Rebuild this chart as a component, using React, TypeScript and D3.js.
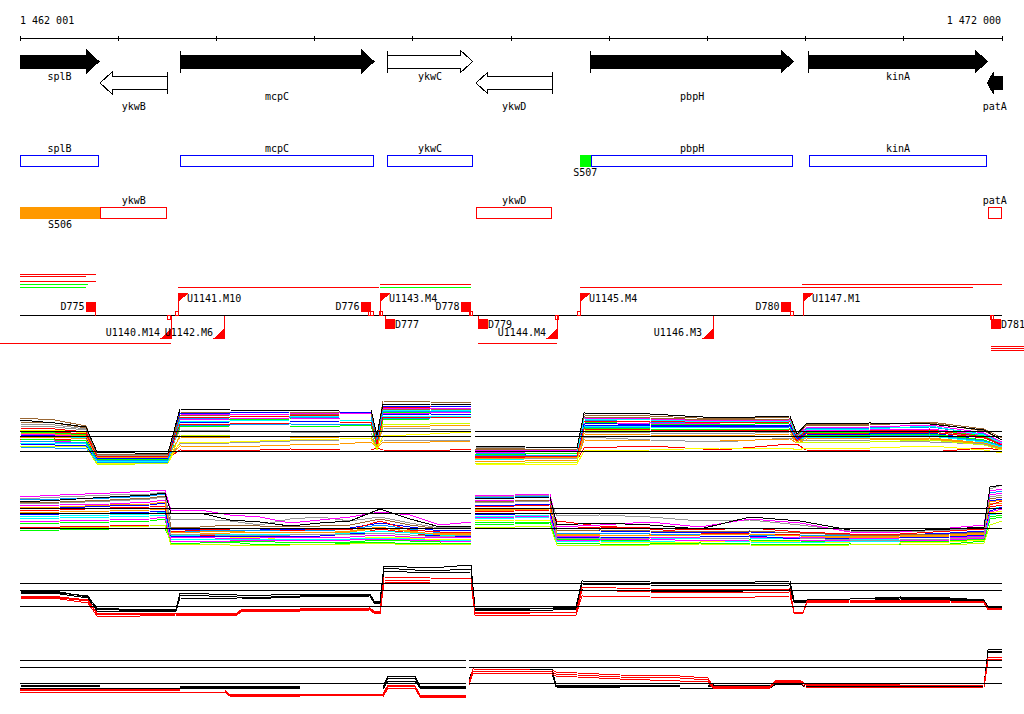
import React, { useEffect, useRef } from 'react';
import * as d3 from 'd3';

// genomic window shown
const viewStart = 1462001;
const viewEnd = 1472000;
const axisTicks = [1462001, 1463001, 1464001, 1465001, 1466001, 1467001, 1468001, 1469001, 1470001, 1471001, 1472000];
const axisLabels = ['1 462 001', '1 472 000'];

// genes (left / right coordinate, strand)
const geneNames = ['splB', 'ykwB', 'mcpC', 'ykwC', 'ykwD', 'pbpH', 'kinA', 'patA'];
const geneLeft = [1461300, 1462816, 1463633, 1465741, 1466644, 1467815, 1470032, 1471854];
const geneRight = [1462805, 1463501, 1465605, 1466610, 1467421, 1469875, 1471851, 1472700];
const geneStrand = [1, -1, 1, 1, -1, 1, 1, -1];
const geneDark = [true, false, true, false, false, true, true, true];
const geneLabelLevel = [0, 2, 1, 0, 2, 1, 0, 2];

// coloured segments on the gene boxes
const segNames = ['S506', 'S507'];
const segLeft = [1461300, 1467700];
const segRight = [1462816, 1467815];
const segStrand = [-1, 1];
const segColors = ['#ff9900', '#00ff00'];

// transcripts
const trLeft = [1462001, 1462001, 1462001, 1462001, 1462001, 1463610, 1465667, 1465667, 1467703, 1469967, 1461500, 1466668, 1471885, 1471885, 1471885];
const trRight = [1462775, 1462673, 1462775, 1462693, 1462673, 1465660, 1466590, 1466590, 1471708, 1472000, 1463535, 1467466, 1472600, 1472600, 1472600];
const trLane = [4, 3, 2, 1, 0, 0, 1, 0, 0, 1, -1, -1, -2, -3, -4];
const trColor = ['#ff0000', '#ff0000', '#ff0000', '#00ff00', '#00ff00', '#ff0000', '#ff0000', '#00ff00', '#ff0000', '#ff0000', '#ff0000', '#ff0000', '#ff0000', '#ff0000', '#ff0000'];

// promoters / terminators / small sites
const promoterNames = ['U1140.M14', 'U1141.M10', 'U1142.M6', 'U1143.M4', 'U1144.M4', 'U1145.M4', 'U1146.M3', 'U1147.M1'];
const promoterPos = [1463535, 1463610, 1464081, 1465667, 1467466, 1467703, 1469054, 1469971];
const promoterStrand = [-1, 1, -1, 1, -1, 1, -1, 1];
const terminatorNames = ['D775', 'D776', 'D777', 'D778', 'D779', 'D780', 'D781'];
const terminatorPos = [1462775, 1465575, 1465720, 1466593, 1466668, 1469851, 1471888];
const terminatorStrand = [1, 1, -1, 1, -1, 1, -1];
const sitePos = [1463523, 1463603, 1465565, 1465590, 1465672, 1466598, 1467469, 1467693, 1469859, 1471898];
const siteStrand = [-1, 1, 1, 1, 1, 1, -1, 1, 1, -1];

// expression panel A (many conditions)
const panelAPosLeft = [1462001, 1462357, 1462673, 1462785, 1463172, 1463508, 1463630, 1464139, 1464750, 1465259, 1465575, 1465636, 1465697, 1466176, 1466593];
const panelAPosRight = [1466634, 1467143, 1467673, 1467744, 1468416, 1469129, 1469841, 1469913, 1470004, 1470656, 1471267, 1471817, 1472000];
const panelAColors = ['#996633', '#999999', '#ff0000', '#00ff00', '#0000ff', '#0099ff', '#00ffff', '#ff00ff', '#ffff00', '#ff9900', '#ff00ff', '#ff0000', '#00ff00', '#0000ff', '#999999', '#ccff00', '#00ffff', '#ff9900', '#996633', '#0099ff', '#ff0000', '#000000'];
const panelAValues = [
  [52, 50, 44, 16, 15, 16, 58, 57, 57, 58, 57, 33, 69, 68, 67, 22, 21, 21, 53, 52, 50, 51, 34, 44, 45, 48, 41, 32],
  [44, 43, 40, 14, 13, 14, 26, 27, 29, 30, 30, 24, 30, 29, 30, 12, 11, 12, 33, 30, 28, 32, 30, 34, 35, 38, 33, 24],
  [30, 31, 29, 12, 12, 12, 20, 19, 21, 20, 20, 22, 20, 19, 21, 8, 9, 10, 22, 24, 20, 26, 26, 20, 19, 18, 22, 20],
  [38, 37, 35, 10, 10, 11, 52, 50, 51, 52, 52, 28, 58, 58, 57, 15, 14, 15, 48, 46, 45, 47, 32, 38, 38, 40, 34, 26],
  [26, 25, 24, 9, 9, 9, 47, 48, 48, 49, 49, 25, 55, 56, 55, 14, 15, 14, 45, 44, 43, 44, 30, 36, 35, 37, 30, 24],
  [23, 22, 22, 8, 7, 8, 45, 45, 46, 45, 46, 26, 52, 52, 53, 17, 16, 16, 50, 48, 47, 48, 33, 41, 42, 43, 36, 27],
  [34, 33, 32, 11, 10, 11, 55, 54, 53, 54, 54, 30, 60, 60, 59, 10, 11, 11, 44, 43, 42, 42, 29, 33, 33, 34, 28, 23],
  [36, 35, 34, 12, 11, 12, 50, 51, 52, 51, 51, 27, 57, 57, 58, 18, 18, 19, 46, 47, 46, 46, 31, 40, 40, 41, 35, 26],
  [40, 40, 37, 7, 6, 7, 28, 28, 30, 31, 32, 20, 34, 36, 38, 6, 5, 6, 19, 20, 22, 22, 20, 22, 22, 24, 20, 17],
  [33, 33, 31, 13, 12, 13, 24, 23, 25, 26, 28, 22, 28, 28, 29, 9, 9, 10, 30, 29, 29, 31, 27, 30, 30, 31, 26, 21],
  [28, 29, 27, 10, 11, 10, 56, 55, 56, 57, 56, 31, 62, 62, 62, 20, 20, 20, 52, 51, 49, 50, 35, 42, 43, 45, 37, 28],
  [42, 41, 38, 15, 14, 15, 53, 53, 54, 55, 55, 29, 63, 63, 64, 13, 13, 13, 49, 49, 47, 48, 32, 39, 39, 40, 33, 25],
  [31, 30, 29, 11, 11, 11, 43, 44, 44, 44, 45, 24, 50, 51, 51, 16, 16, 17, 42, 41, 40, 41, 28, 35, 35, 36, 30, 24],
  [35, 34, 33, 12, 12, 12, 57, 57, 58, 58, 57, 32, 64, 64, 63, 11, 12, 12, 47, 45, 44, 45, 31, 37, 36, 38, 32, 25],
  [46, 45, 41, 15, 15, 15, 40, 39, 38, 37, 37, 23, 42, 41, 40, 23, 22, 22, 38, 37, 36, 38, 29, 30, 29, 28, 26, 22],
  [24, 24, 23, 6, 6, 7, 35, 34, 34, 33, 33, 21, 46, 46, 47, 7, 7, 8, 40, 39, 38, 40, 27, 28, 28, 30, 25, 20],
  [27, 27, 26, 9, 8, 9, 49, 49, 50, 50, 50, 26, 54, 54, 54, 19, 19, 18, 51, 50, 48, 49, 34, 40, 41, 44, 35, 27],
  [37, 36, 34, 13, 13, 14, 33, 32, 32, 33, 33, 23, 44, 44, 45, 12, 12, 13, 36, 35, 34, 36, 28, 32, 31, 32, 27, 22],
  [48, 47, 42, 16, 16, 16, 54, 55, 55, 56, 56, 30, 61, 61, 60, 21, 21, 21, 55, 54, 51, 53, 34, 45, 46, 47, 39, 30],
  [29, 28, 27, 10, 9, 10, 51, 52, 52, 53, 53, 28, 59, 59, 59, 15, 15, 15, 43, 42, 42, 43, 30, 34, 34, 35, 29, 24],
  [39, 38, 36, 14, 13, 14, 46, 46, 47, 47, 48, 26, 53, 53, 52, 14, 14, 14, 41, 40, 39, 40, 29, 36, 37, 38, 32, 25],
  [50, 47, 43, 18, 17, 17, 61, 60, 59, 60, 60, 35, 66, 66, 65, 24, 23, 22, 57, 56, 52, 54, 36, 46, 47, 46, 40, 30]
];

// expression panel B
const panelBPosLeft = [1462001, 1462408, 1462917, 1463325, 1463477, 1463539, 1463834, 1464139, 1464445, 1464750, 1465056, 1465361, 1465667, 1465972, 1466278, 1466593];
const panelBPosRight = [1466634, 1467041, 1467398, 1467469, 1467907, 1468416, 1468925, 1469434, 1469943, 1470452, 1470961, 1471471, 1471817, 1471878, 1472000];
const panelBColors = ['#999999', '#ff0000', '#00ff00', '#0000ff', '#00ffff', '#ffff00', '#ff9900', '#ff00ff', '#0099ff', '#ff0000', '#00ff00', '#996633', '#0000ff', '#00ffff', '#ccff00', '#ff9900', '#ff00ff', '#999999', '#ff00ff', '#000000'];
const panelBValues = [
  [43, 44, 46, 48, 50, 27, 28, 26, 22, 28, 30, 26, 30, 24, 19, 20, 44, 45, 46, 31, 32, 30, 26, 27, 22, 16, 15, 17, 18, 50, 52],
  [20, 20, 21, 22, 22, 10, 11, 12, 11, 12, 13, 12, 18, 14, 10, 11, 35, 36, 37, 26, 21, 18, 14, 13, 12, 10, 9, 10, 12, 40, 42],
  [16, 17, 18, 18, 19, 5, 6, 5, 6, 4, 5, 5, 7, 6, 5, 6, 22, 23, 24, 8, 7, 6, 6, 7, 6, 5, 5, 6, 8, 30, 32],
  [38, 39, 41, 42, 44, 18, 17, 19, 18, 17, 18, 19, 24, 20, 16, 17, 42, 42, 43, 17, 16, 15, 14, 15, 14, 13, 12, 14, 16, 46, 48],
  [30, 31, 32, 33, 35, 12, 12, 13, 12, 13, 12, 14, 16, 14, 12, 12, 30, 31, 32, 9, 8, 9, 8, 8, 9, 7, 8, 8, 10, 38, 40],
  [26, 26, 27, 28, 30, 8, 7, 9, 10, 6, 8, 8, 10, 9, 7, 8, 26, 27, 27, 6, 5, 4, 5, 6, 5, 4, 4, 5, 7, 34, 36],
  [34, 35, 36, 37, 38, 14, 15, 16, 14, 15, 14, 16, 20, 15, 13, 14, 38, 38, 39, 12, 11, 12, 11, 10, 10, 9, 10, 11, 13, 44, 44],
  [41, 42, 43, 45, 47, 9, 10, 8, 9, 10, 9, 10, 12, 10, 9, 10, 46, 47, 47, 11, 10, 10, 9, 9, 10, 8, 9, 9, 11, 52, 54],
  [47, 48, 49, 51, 53, 16, 16, 17, 16, 17, 16, 18, 22, 18, 14, 15, 49, 50, 51, 14, 14, 13, 12, 12, 12, 11, 11, 12, 14, 54, 56],
  [36, 37, 39, 40, 41, 15, 17, 18, 19, 16, 18, 17, 26, 17, 15, 15, 40, 41, 42, 18, 20, 19, 17, 19, 15, 13, 13, 16, 18, 42, 46],
  [23, 24, 25, 26, 28, 3, 4, 5, 2, 3, 2, 4, 5, 3, 4, 3, 24, 25, 25, 4, 3, 3, 4, 3, 2, 3, 2, 3, 6, 28, 30],
  [44, 45, 47, 49, 51, 20, 20, 22, 21, 20, 21, 22, 28, 22, 18, 19, 45, 46, 47, 16, 17, 16, 15, 16, 14, 12, 12, 13, 15, 48, 50],
  [32, 33, 34, 35, 36, 11, 11, 10, 11, 11, 11, 13, 14, 12, 11, 11, 33, 33, 34, 10, 9, 10, 10, 11, 8, 9, 9, 10, 12, 36, 40],
  [28, 29, 30, 31, 32, 7, 8, 7, 8, 8, 7, 8, 9, 8, 6, 7, 28, 29, 30, 5, 6, 5, 7, 5, 4, 6, 6, 7, 9, 32, 34],
  [18, 19, 20, 21, 22, 2, 3, 2, 1, 2, 3, 3, 4, 2, 3, 2, 20, 20, 21, 2, 1, 2, 3, 2, 1, 2, 3, 2, 4, 22, 26],
  [39, 40, 42, 43, 45, 13, 13, 14, 15, 14, 15, 15, 19, 16, 12, 13, 36, 37, 38, 13, 12, 11, 12, 13, 11, 10, 11, 12, 14, 45, 47],
  [25, 26, 27, 28, 30, 6, 6, 6, 7, 7, 6, 7, 8, 7, 6, 6, 29, 30, 31, 7, 7, 8, 6, 7, 7, 6, 6, 7, 9, 35, 38],
  [48, 50, 52, 53, 55, 12, 13, 11, 12, 12, 13, 12, 14, 12, 10, 12, 50, 51, 52, 8, 9, 8, 8, 9, 9, 7, 7, 8, 10, 58, 62],
  [50, 52, 54, 56, 57, 36, 37, 32, 30, 24, 27, 30, 35, 32, 22, 25, 51, 52, 53, 20, 22, 25, 20, 28, 24, 15, 15, 19, 22, 56, 58],
  [45, 47, 50, 52, 54, 34, 34, 27, 25, 21, 24, 26, 38, 28, 20, 21, 48, 49, 50, 22, 24, 22, 18, 30, 26, 17, 16, 18, 20, 60, 62]
];

// expression panel C (3 black + 3 red)
const panelCPos = [1462001, 1462408, 1462693, 1462785, 1463223, 1463589, 1463630, 1464211, 1464261, 1464852, 1465565, 1465605, 1465667, 1465707, 1466176, 1466593, 1466634, 1467194, 1467662, 1467723, 1468416, 1469129, 1469841, 1469882, 1469974, 1470015, 1470452, 1470961, 1471471, 1471817, 1471858, 1472000];
const panelCColors = ['#000000', '#000000', '#000000', '#ff0000', '#ff0000', '#ff0000'];
const panelCValues = [
  [32, 31, 26, 15, 13, 14, 30, 28, 27, 29, 29, 22, 22, 57, 55, 58, 15, 14, 16, 42, 41, 40, 42, 23, 23, 23, 24, 26, 25, 23, 16, 16],
  [31, 30, 27, 14, 12, 13, 28, 26, 25, 27, 28, 21, 21, 55, 52, 54, 14, 14, 15, 39, 38, 37, 38, 22, 22, 22, 24, 25, 24, 22, 15, 15],
  [30, 29, 25, 12, 11, 12, 25, 24, 24, 26, 27, 20, 20, 52, 50, 51, 13, 12, 14, 33, 32, 31, 34, 21, 21, 21, 22, 24, 23, 21, 14, 14],
  [27, 26, 23, 10, 10, 10, 10, 10, 14, 14, 15, 12, 11, 46, 45, 44, 11, 11, 10, 36, 34, 33, 34, 10, 10, 22, 23, 23, 22, 21, 15, 15],
  [26, 25, 22, 9, 8, 9, 9, 9, 13, 13, 14, 11, 10, 43, 42, 42, 10, 9, 9, 33, 31, 30, 31, 10, 10, 21, 22, 22, 21, 20, 14, 14],
  [25, 24, 20, 7, 7, 8, 8, 8, 12, 12, 13, 10, 9, 41, 40, 40, 8, 8, 8, 27, 26, 25, 27, 11, 11, 20, 21, 21, 20, 20, 13, 14]
];

// expression panel D (3 black + 3 red)
const panelDPosLeft = [1462001, 1462816, 1463630, 1464088, 1464129, 1464852, 1465697, 1465748, 1466023, 1466074, 1466542];
const panelDPosRight = [1466573, 1466614, 1467194, 1467418, 1467459, 1468110, 1468721, 1469006, 1469057, 1469638, 1469699, 1469943, 1469994, 1470961, 1471817, 1471858, 1472000];
const panelDColors = ['#000000', '#000000', '#000000', '#ff0000', '#ff0000', '#ff0000'];
const panelDValues = [
  [15, 14, 14, 14, 14, 13, 13, 24, 24, 14, 14, 20, 31, 30, 31, 15, 15, 14, 14, 15, 14, 18, 18, 16, 14, 15, 50, 51],
  [14, 13, 13, 13, 13, 12, 12, 22, 22, 13, 13, 19, 29, 29, 29, 14, 14, 13, 13, 14, 13, 17, 17, 14, 13, 14, 49, 49],
  [12, 12, 12, 12, 12, 11, 11, 19, 19, 12, 12, 18, 27, 27, 27, 13, 12, 12, 12, 12, 12, 16, 16, 13, 12, 13, 47, 48],
  [11, 11, 10, 10, 6, 6, 6, 15, 14, 5, 5, 17, 31, 30, 30, 28, 25, 24, 22, 14, 14, 20, 20, 16, 16, 17, 42, 43],
  [10, 10, 9, 9, 5, 5, 5, 14, 13, 4, 4, 16, 29, 29, 28, 26, 23, 22, 20, 13, 13, 19, 19, 15, 14, 15, 40, 41],
  [8, 8, 8, 8, 4, 3, 3, 12, 12, 3, 3, 15, 27, 27, 26, 24, 21, 19, 18, 12, 12, 18, 18, 13, 12, 13, 39, 40]
];
const refsAB = [39.3, 33.7, 18.7];
const refsCD = [39.7, 32.7, 16.7];

type Sel = d3.Selection<SVGSVGElement, unknown, null, undefined>;

export default () => {
  const svgRef = useRef<SVGSVGElement>(null);
  const width = 1024;
  const height = 714;
  const font = "'DejaVu Sans Mono', monospace";

  const x = d3.scaleLinear().domain([viewStart, viewEnd]).range([20, 1002]);
  const cx = (v: number) => Math.max(20, Math.min(1002, x(v)));

  const text = (g: any, tx: number, ty: number, s: string, anchor = 'start') =>
    g.append('text').attr('x', tx).attr('y', ty).attr('text-anchor', anchor)
      .attr('font-family', font).attr('font-size', 10).attr('fill', '#000').text(s);

  const hline = (g: any, x1: number, x2: number, y: number, color: string) =>
    g.append('line').attr('x1', x1).attr('x2', x2).attr('y1', y).attr('y2', y)
      .attr('stroke', color).attr('stroke-width', 1).attr('shape-rendering', 'crispEdges');

  const drawAxis = (svg: Sel) => {
    const g = svg.append('g');
    hline(g, x(viewStart), x(viewEnd), 38.5, '#000');
    g.selectAll('line.tick').data(axisTicks).enter().append('line')
      .attr('x1', d => x(d)).attr('x2', d => x(d)).attr('y1', 35.5).attr('y2', 41)
      .attr('stroke', '#000').attr('shape-rendering', 'crispEdges');
    text(g, x(viewStart), 24, axisLabels[0]);
    text(g, x(viewEnd) - 1, 24, axisLabels[1], 'end');
  };

  const drawGenes = (svg: Sel) => {
    const g = svg.append('g');
    const bh = 6.5;
    const hh = 11;
    const labelY = [79.5, 100, 109.5];
    geneNames.forEach((name, i) => {
      const x0 = cx(geneLeft[i]);
      const x1 = cx(geneRight[i]);
      const fwd = geneStrand[i] > 0;
      const cy = fwd ? 61.5 : 83;
      const head = Math.min(12, (x1 - x0) * 0.4);
      const p = d3.path();
      if (fwd) {
        const hb = x1 - head;
        p.moveTo(x0, cy - bh); p.lineTo(hb, cy - bh); p.lineTo(hb, cy - hh); p.lineTo(x1, cy);
        p.lineTo(hb, cy + hh); p.lineTo(hb, cy + bh); p.lineTo(x0, cy + bh); p.closePath();
      } else {
        const hb = x0 + head;
        p.moveTo(x1, cy - bh); p.lineTo(hb, cy - bh); p.lineTo(hb, cy - hh); p.lineTo(x0, cy);
        p.lineTo(hb, cy + hh); p.lineTo(hb, cy + bh); p.lineTo(x1, cy + bh); p.closePath();
      }
      g.append('path').attr('d', p.toString())
        .attr('fill', geneDark[i] ? '#000' : '#fff')
        .attr('stroke', '#000').attr('stroke-width', 1).attr('shape-rendering', 'crispEdges');
      const startVisible = fwd ? geneLeft[i] >= viewStart : geneRight[i] <= viewEnd;
      if (startVisible) {
        const bx = fwd ? x0 : x1;
        g.append('line').attr('x1', bx).attr('x2', bx).attr('y1', cy - hh).attr('y2', cy + hh)
          .attr('stroke', '#000').attr('shape-rendering', 'crispEdges');
      }
      text(g, (x0 + x1) / 2, labelY[geneLabelLevel[i]], name, 'middle');
    });
  };

  const drawBoxes = (svg: Sel) => {
    const g = svg.append('g');
    const rowY = (s: number) => (s > 0 ? 155 : 207);
    segNames.forEach((name, i) => {
      const x0 = cx(segLeft[i]);
      const x1 = cx(segRight[i]);
      const y0 = rowY(segStrand[i]);
      g.append('rect').attr('x', x0).attr('y', y0).attr('width', x1 - x0).attr('height', 12)
        .attr('fill', segColors[i]).attr('shape-rendering', 'crispEdges');
      text(g, (x0 + x1) / 2, y0 + 21, name, 'middle');
    });
    geneNames.forEach((name, i) => {
      const x0 = cx(geneLeft[i]);
      const x1 = cx(geneRight[i]);
      const y0 = rowY(geneStrand[i]);
      g.append('rect').attr('x', x0 + 0.5).attr('y', y0 + 0.5).attr('width', x1 - x0 - 1).attr('height', 11)
        .attr('fill', 'none').attr('stroke', geneStrand[i] > 0 ? '#0000ff' : '#ff0000')
        .attr('shape-rendering', 'crispEdges');
      text(g, (x0 + x1) / 2, y0 - 3, name, 'middle');
    });
  };

  const drawTranscripts = (svg: Sel) => {
    const g = svg.append('g');
    const laneY: Record<number, number> = { 4: 274.5, 3: 276.5, 2: 281.5, 1: 284.5, 0: 287.5, [-1]: 343.5, [-2]: 346.5, [-3]: 348.5, [-4]: 350.5 };
    const base = 315.5;
    hline(g, x(viewStart), x(viewEnd), base, '#000');
    trLeft.forEach((l, i) => hline(g, x(l), x(trRight[i]), laneY[trLane[i]], trColor[i]));

    sitePos.forEach((pos, i) => {
      const sx = x(pos);
      const y0 = siteStrand[i] > 0 ? base - 4 : base;
      g.append('rect').attr('x', sx - 1.5).attr('y', y0).attr('width', 3).attr('height', 4)
        .attr('fill', '#fff').attr('stroke', '#ff0000').attr('shape-rendering', 'crispEdges');
    });

    promoterNames.forEach((name, i) => {
      const px = Math.round(x(promoterPos[i])) + 0.5;
      const fwd = promoterStrand[i] > 0;
      const tipY = fwd ? 292.5 : 338.5;
      g.append('line').attr('x1', px).attr('x2', px).attr('y1', base).attr('y2', tipY)
        .attr('stroke', '#ff0000').attr('shape-rendering', 'crispEdges');
      const tri = d3.path();
      if (fwd) {
        tri.moveTo(px, tipY); tri.lineTo(px + 11, tipY); tri.lineTo(px, tipY + 9);
      } else {
        tri.moveTo(px, tipY); tri.lineTo(px - 11, tipY); tri.lineTo(px, tipY - 10);
      }
      tri.closePath();
      g.append('path').attr('d', tri.toString()).attr('fill', '#ff0000').attr('shape-rendering', 'crispEdges');
      if (fwd) text(g, px + 8.5, 301.5, name);
      else text(g, px - 11.5, 336, name, 'end');
    });

    terminatorNames.forEach((name, i) => {
      const tx = Math.round(x(terminatorPos[i]));
      const fwd = terminatorStrand[i] > 0;
      if (fwd) {
        g.append('rect').attr('x', tx - 10).attr('y', 302).attr('width', 10).attr('height', 10)
          .attr('fill', '#ff0000').attr('shape-rendering', 'crispEdges');
        g.append('line').attr('x1', tx - 0.5).attr('x2', tx - 0.5).attr('y1', 312).attr('y2', base)
          .attr('stroke', '#ff0000').attr('shape-rendering', 'crispEdges');
        text(g, tx - 11.5, 309.5, name, 'end');
      } else {
        g.append('rect').attr('x', tx).attr('y', 319).attr('width', 10).attr('height', 10)
          .attr('fill', '#ff0000').attr('shape-rendering', 'crispEdges');
        g.append('line').attr('x1', tx + 0.5).attr('x2', tx + 0.5).attr('y1', base).attr('y2', 319)
          .attr('stroke', '#ff0000').attr('shape-rendering', 'crispEdges');
        text(g, tx + 10, 327.5, name);
      }
    });
  };

  const drawPanel = (
    svg: Sel,
    base: number,
    refs: number[],
    halves: number[][],
    values: number[][],
    colors: string[]
  ) => {
    const g = svg.append('g');
    const y = d3.scaleLinear().domain([0, 80]).range([base, base - 80]);
    let offset = 0;
    halves.forEach(positions => {
      const from = offset;
      const line = d3.line<number>()
        .x((_, i) => x(positions[i]))
        .y(v => y(v));
      values.forEach((vals, k) => {
        g.append('path')
          .attr('d', line(vals.slice(from, from + positions.length)) as string)
          .attr('fill', 'none')
          .attr('stroke', colors[k])
          .attr('stroke-width', 1)
          .attr('shape-rendering', 'crispEdges');
      });
      offset += positions.length;
    });
    halves.forEach(positions => {
      refs.forEach(r => hline(g, x(positions[0]), x(positions[positions.length - 1]), Math.round(y(r)) + 0.5, '#000'));
    });
  };

  useEffect(() => {
    if (!svgRef.current) {
      return;
    }
    const svg = d3.select(svgRef.current)
      .attr('width', width)
      .attr('height', height);
    svg.selectAll('*').remove();

    drawAxis(svg);
    drawGenes(svg);
    drawBoxes(svg);
    drawTranscripts(svg);

    drawPanel(svg, 470, refsAB, [panelAPosLeft, panelAPosRight], panelAValues, panelAColors);
    drawPanel(svg, 547, refsAB, [panelBPosLeft, panelBPosRight], panelBValues, panelBColors);
    drawPanel(svg, 623, refsCD, [panelCPos], panelCValues, panelCColors);
    drawPanel(svg, 700, refsCD, [panelDPosLeft, panelDPosRight], panelDValues, panelDColors);
  }, []);

  return (
    <div style={{ position: 'absolute', left: 0, top: 0, width, height, background: '#fff' }}>
      <svg ref={svgRef} style={{ display: 'block' }} />
    </div>
  );
};
